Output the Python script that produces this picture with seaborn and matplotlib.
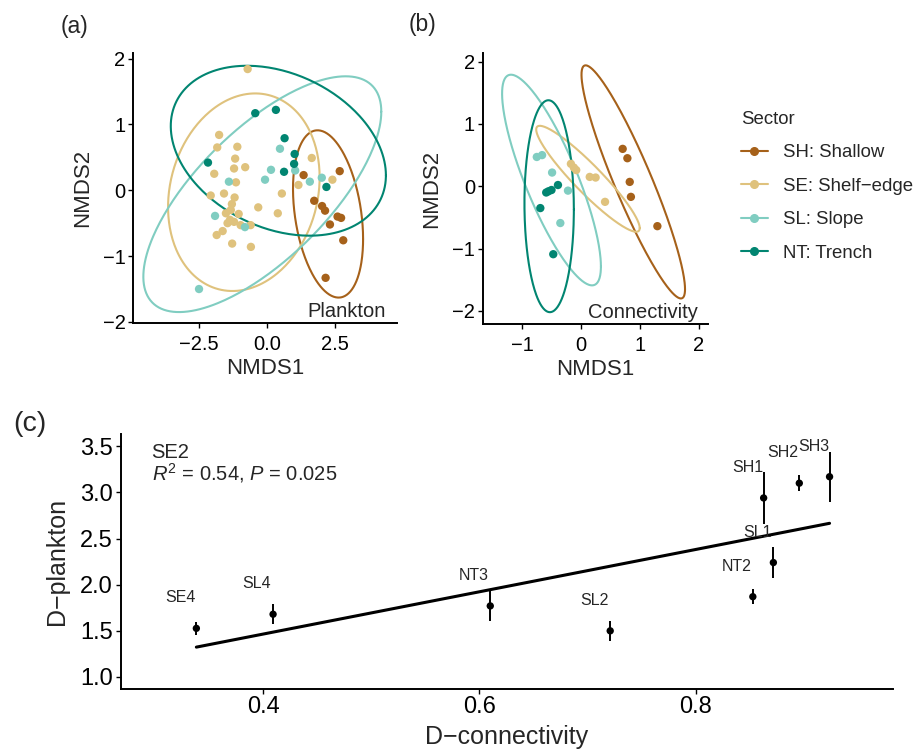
import numpy as np
import pandas as pd
import matplotlib
matplotlib.use("Agg")
import matplotlib.pyplot as plt
from matplotlib.lines import Line2D
import seaborn as sns

# ---------------------------------------------------
# THEME
# ---------------------------------------------------

sns.set_style("ticks")
plt.rcParams["font.family"] = ["Liberation Sans", "DejaVu Sans"]
plt.rcParams["mathtext.fontset"] = "custom"
plt.rcParams["mathtext.rm"] = "Liberation Sans"
plt.rcParams["mathtext.it"] = "Liberation Sans:italic"

SECTORS = ["SH", "SE", "SL", "NT"]
SECTOR_LABELS = ["SH: Shallow", "SE: Shelf\u2212edge", "SL: Slope", "NT: Trench"]
SECTOR_COLORS = ["#A6611A", "#DFC27D", "#80CDC1", "#018571"]
palette = dict(zip(SECTORS, SECTOR_COLORS))

# ---------------------------------------------------
# DATA
# ---------------------------------------------------

# (a) plankton NMDS scores
plank_sh_x = [1.35, 2.68, 1.74, 2.03, 2.14, 2.60, 2.73, 2.32, 2.81, 2.16]
plank_sh_y = [0.23, 0.29, -0.16, -0.24, -0.31, -0.40, -0.42, -0.52, -0.76, -1.33]
plank_se_x = [-0.71, -1.76, -1.83, -1.09, -1.17, -1.21, -0.80, -1.94, -1.14, -2.07,
              -1.58, -1.19, -1.29, -0.32, 0.55, 0.40, -1.51, -1.04, -1.36, -1.21,
              -0.97, -0.60, -1.63, -1.85, -1.28, -0.59, 1.65, 1.16, 2.41, -1.33, -1.45]
plank_se_y = [1.84, 0.84, 0.65, 0.66, 0.48, 0.33, 0.35, 0.25, 0.12, -0.08,
              -0.05, -0.11, -0.21, -0.26, -0.05, -0.35, -0.35, -0.36, -0.45, -0.48,
              -0.53, -0.53, -0.62, -0.68, -0.81, -0.86, 0.49, 0.08, 0.16, -0.30, -0.50]
plank_sl_x = [0.48, 0.15, -0.07, -1.40, 1.04, 1.58, 2.02, -1.91, -0.81, -2.50]
plank_sl_y = [0.63, 0.31, 0.16, 0.13, 0.30, 0.13, 0.19, -0.39, -0.56, -1.50]
plank_nt_x = [-0.43, 0.33, 0.65, 1.02, 1.00, 0.63, -2.17, 2.19]
plank_nt_y = [1.17, 1.22, 0.79, 0.55, 0.40, 0.28, 0.42, 0.05]

# (b) connectivity NMDS scores
conn_sh_x = [0.71, 0.79, 0.83, 0.85, 1.30]
conn_sh_y = [0.60, 0.45, 0.07, -0.17, -0.64]
conn_se_x = [-0.17, -0.08, 0.15, 0.25, 0.41, -0.12]
conn_se_y = [0.36, 0.26, 0.15, 0.14, -0.25, 0.30]
conn_sl_x = [-0.75, -0.66, -0.49, -0.22, -0.35]
conn_sl_y = [0.47, 0.50, 0.22, -0.07, -0.59]
conn_nt_x = [-0.39, -0.50, -0.59, -0.69, -0.47, -0.55]
conn_nt_y = [0.02, -0.06, -0.10, -0.35, -1.09, -0.08]

# ellipse summaries per sector: centre x, centre y, half width, half height, correlation
plank_ell_cx = [2.25, -0.85, -0.17, 0.42]
plank_ell_cy = [-0.36, -0.03, -0.06, 0.60]
plank_ell_hx = [1.29, 2.79, 4.38, 3.96]
plank_ell_hy = [1.27, 1.50, 1.79, 1.29]
plank_ell_rho = [-0.30, 0.15, 0.70, -0.29]

conn_ell_cx = [0.89, 0.12, -0.50, -0.54]
conn_ell_cy = [0.07, 0.12, 0.10, -0.32]
conn_ell_hx = [0.88, 0.88, 0.84, 0.42]
conn_ell_hy = [1.87, 0.85, 1.69, 1.70]
conn_ell_rho = [-0.92, -0.93, -0.82, -0.03]

# (c) D-connectivity vs D-plankton
sites = ["SE4", "SL4", "NT3", "SL2", "NT2", "SL1", "SH1", "SH2", "SH3"]
d_conn = [0.338, 0.409, 0.610, 0.721, 0.853, 0.872, 0.863, 0.896, 0.924]
d_plank = [1.527, 1.68, 1.77, 1.50, 1.87, 2.24, 2.94, 3.10, 3.17]
d_plank_err = [0.07, 0.11, 0.16, 0.11, 0.08, 0.165, 0.285, 0.09, 0.27]


def scores_frame(xs, ys):
    rows = []
    for sec, x, y in zip(SECTORS, xs, ys):
        for xi, yi in zip(x, y):
            rows.append({"sector": sec, "x": xi, "y": yi})
    return pd.DataFrame(rows)


plank_df = scores_frame([plank_sh_x, plank_se_x, plank_sl_x, plank_nt_x],
                        [plank_sh_y, plank_se_y, plank_sl_y, plank_nt_y])
conn_df = scores_frame([conn_sh_x, conn_se_x, conn_sl_x, conn_nt_x],
                       [conn_sh_y, conn_se_y, conn_sl_y, conn_nt_y])

# ---------------------------------------------------
# FIGURE
# ---------------------------------------------------

fig = plt.figure(figsize=(9.18, 7.49), dpi=100)
ax_a = fig.add_axes([0.1449, 0.5684, 0.2879, 0.3605])
ax_b = fig.add_axes([0.5258, 0.5674, 0.2454, 0.3620])
ax_c = fig.add_axes([0.1315, 0.0805, 0.8416, 0.3397])

t = np.linspace(0, 2 * np.pi, 300)


def draw_ordination(ax, df, cx, cy, hx, hy, rho, tag_text):
    for i, sec in enumerate(SECTORS):
        ex = cx[i] + hx[i] * np.cos(t)
        ey = cy[i] + hy[i] * (rho[i] * np.cos(t) + np.sqrt(1 - rho[i] ** 2) * np.sin(t))
        ax.plot(ex, ey, color=palette[sec], lw=1.5, zorder=2)
    sns.scatterplot(data=df, x="x", y="y", hue="sector", palette=palette,
                    hue_order=SECTORS, s=36, edgecolor="none", legend=False,
                    ax=ax, zorder=3)
    ax.text(0.955, 0.022, tag_text, transform=ax.transAxes, ha="right",
            va="baseline", fontsize=14.5)
    ax.set_xlabel("NMDS1", fontsize=16, labelpad=3)
    ax.set_ylabel("NMDS2", fontsize=16, labelpad=7)


draw_ordination(ax_a, plank_df, plank_ell_cx, plank_ell_cy, plank_ell_hx,
                plank_ell_hy, plank_ell_rho, "Plankton")
ax_a.set_xlim(-4.93, 4.8)
ax_a.set_ylim(-2.02, 2.08)
ax_a.set_xticks([-2.5, 0.0, 2.5])
ax_a.set_xticklabels(["\u22122.5", "0.0", "2.5"])
ax_a.set_yticks([-2, -1, 0, 1, 2])

draw_ordination(ax_b, conn_df, conn_ell_cx, conn_ell_cy, conn_ell_hx,
                conn_ell_hy, conn_ell_rho, "Connectivity")
ax_b.set_xlim(-1.67, 2.16)
ax_b.set_ylim(-2.21, 2.14)
ax_b.set_xticks([-1, 0, 1, 2])
ax_b.set_yticks([-2, -1, 0, 1, 2])

# panel c
sns.regplot(x=d_conn, y=d_plank, ci=None, scatter=False, truncate=True,
            color="black", line_kws={"lw": 2.2}, ax=ax_c)
ax_c.errorbar(d_conn, d_plank, yerr=d_plank_err, fmt="none", ecolor="black",
              elinewidth=1.4, capsize=0, zorder=3)
sns.scatterplot(x=d_conn, y=d_plank, color="black", s=28, edgecolor="none",
                ax=ax_c, zorder=4)
for name, xv, yv in zip(sites, d_conn, d_plank):
    ax_c.text(xv - 0.015, yv + 0.33, name, ha="center", va="center", fontsize=11.5)

ax_c.text(0.04, 0.907, "SE2", transform=ax_c.transAxes, fontsize=14.5, va="baseline")
ax_c.text(0.04, 0.82, r"$\it{R}^2$ = 0.54, $\it{P}$ = 0.025", transform=ax_c.transAxes,
          fontsize=14.5, va="baseline")

ax_c.set_xlim(0.268, 0.983)
ax_c.set_ylim(0.873, 3.63)
ax_c.set_xticks([0.4, 0.6, 0.8])
ax_c.set_yticks([1.0, 1.5, 2.0, 2.5, 3.0, 3.5])
ax_c.set_yticklabels(["1.0", "1.5", "2.0", "2.5", "3.0", "3.5"])
ax_c.set_xlabel("D\u2212connectivity", fontsize=18, labelpad=4.5)
ax_c.set_ylabel("D\u2212plankton", fontsize=18, labelpad=8)

for ax, tsize in [(ax_a, 14.5), (ax_b, 14.5), (ax_c, 17)]:
    sns.despine(ax=ax)
    for side in ["left", "bottom"]:
        ax.spines[side].set_linewidth(1.4)
        ax.spines[side].set_color("black")
    ax.tick_params(axis="both", length=3.5, width=1.0, pad=2, labelsize=tsize,
                   colors="black")
    ax.grid(False)

ax_a.tick_params(axis="x", pad=5)
ax_b.tick_params(axis="x", pad=5)

# panel tags
fig.text(74 / 918, 1 - 27 / 749, "(a)", fontsize=16.5, ha="center", va="center")
fig.text(422 / 918, 1 - 24 / 749, "(b)", fontsize=16.5, ha="center", va="center")
fig.text(30 / 918, 1 - 424 / 749, "(c)", fontsize=20.5, ha="center", va="center")

# legend
handles = [Line2D([0], [0], color=c, lw=1.5, marker="o", markersize=5.5)
           for c in SECTOR_COLORS]
fig.legend(handles, SECTOR_LABELS, title="Sector", loc="upper left",
           bbox_to_anchor=(741 / 918, 1 - 111 / 749), frameon=False,
           fontsize=13.4, title_fontsize=13.4, alignment="left",
           handlelength=1.45, handletextpad=0.8, labelspacing=0.88,
           borderpad=0, borderaxespad=0)

fig.savefig("out.png", dpi=100)
plt.close(fig)
